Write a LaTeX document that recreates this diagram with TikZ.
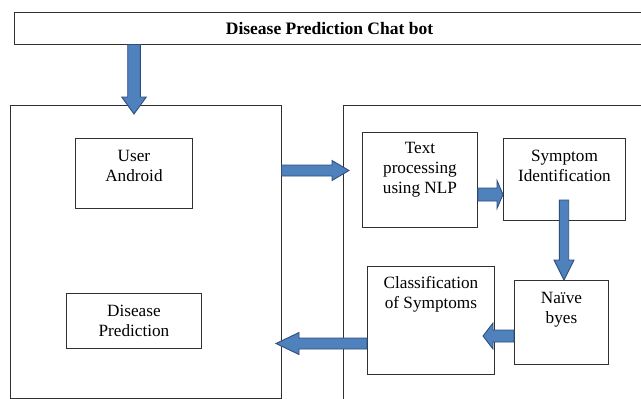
\documentclass[tikz,border=0pt]{standalone}
\usepackage{fontspec}
\setmainfont{Liberation Serif}
\usetikzlibrary{calc}
\definecolor{arrowfill}{HTML}{4F81BD}
\definecolor{arrowline}{HTML}{2F4F7F}
\definecolor{boxline}{HTML}{303030}
\newcommand\boxcontent[4]{\parbox[c][#2][t]{#1}{\centering\rule{0pt}{#3}#4}}
\newcommand\hblockarrow[5]{%
  \draw[blockarrow] let \p1=(#1), \p2=(#2), \n1={sign(\x1-\x2)} in
   (\x1,\y1-#3) -- (\x2+\n1*#5,\y1-#3) -- (\x2+\n1*#5,\y1-#4) -- (\x2,\y1)
   -- (\x2+\n1*#5,\y1+#4) -- (\x2+\n1*#5,\y1+#3) -- (\x1,\y1+#3) -- cycle;}
\newcommand\vblockarrow[5]{%
  \draw[blockarrow] let \p1=(#1), \p2=(#2), \n1={sign(\y1-\y2)} in
   (\x1-#3,\y1) -- (\x1-#3,\y2+\n1*#5) -- (\x1-#4,\y2+\n1*#5) -- (\x1,\y2)
   -- (\x1+#4,\y2+\n1*#5) -- (\x1+#3,\y2+\n1*#5) -- (\x1+#3,\y1) -- cycle;}
\begin{document}
\begin{tikzpicture}[x=1pt,y=-1pt,
  frame/.style={draw=boxline,line width=1pt},
  procbox/.style={draw=boxline,line width=0.9pt,inner sep=0pt,anchor=north west,
     font=\fontsize{17.2}{20}\selectfont},
  titletext/.style={font=\fontsize{17.5}{20}\selectfont\bfseries,inner sep=0pt},
  blockarrow/.style={fill=arrowfill,draw=arrowline,line width=0.9pt,line join=miter}]
\useasboundingbox (0,0) rectangle (641,399);
\fill[white] (0,0) rectangle (641,399);
\begin{scope}
\clip (0,0) rectangle (641,399);
% outer frames
\draw[frame] (14,12.5) rectangle (660,44.5);
\coordinate (titlebottom) at (134,44.5);
\node[titletext] (titlelabel) at (329.5,29) {Disease Prediction Chat bot};
\draw[frame] (10,105) rectangle (281.5,398);
\draw[frame] (343.5,105.5) rectangle (660,420);

% inner boxes
\node[procbox] (user) at (75,138) {\boxcontent{117pt}{70pt}{23pt}{User\\Android}};
\node[procbox] (disease) at (66,293) {\boxcontent{135pt}{55pt}{23pt}{Disease\\Prediction}};
\node[procbox] (textproc) at (362,132) {\boxcontent{115pt}{95pt}{21pt}{Text\\processing\\using NLP}};
\node[procbox] (symptom) at (503,138) {\boxcontent{122pt}{81.5pt}{22.7pt}{Symptom\\Identification}};
\node[procbox] (naive) at (514,280) {\boxcontent{94pt}{84pt}{23pt}{Naïve\\byes}};
\node[procbox] (classif) at (367,266) {\boxcontent{127pt}{108pt}{22.5pt}{Classification\\of Symptoms}};

% arrow end points
\coordinate (a1s) at (titlebottom);
\coordinate (a1e) at (134,114);
\coordinate (a2s) at (281.5,170.5);
\coordinate (a2e) at (349,170.5);
\coordinate (a3s) at (textproc.east |- 0,194.5);
\coordinate (a3e) at (symptom.west |- 0,194.5);
\coordinate (a4s) at (564,200);
\coordinate (a4e) at (naive.north -| 564,0);
\coordinate (a5s) at (naive.west |- 0,336);
\coordinate (a5e) at (483,336);
\coordinate (a6s) at (classif.west |- 0,343.5);
\coordinate (a6e) at (276,343.5);

\vblockarrow{a1s}{a1e}{6.3pt}{12.3pt}{17pt}
\hblockarrow{a2s}{a2e}{5.5pt}{10pt}{17pt}
\hblockarrow{a3s}{a3e}{6.5pt}{14pt}{6pt}
\vblockarrow{a4s}{a4e}{4.7pt}{10pt}{20pt}
\hblockarrow{a5s}{a5e}{6pt}{13pt}{10pt}
\hblockarrow{a6s}{a6e}{5.5pt}{11pt}{23pt}
\end{scope}
\end{tikzpicture}
\end{document}
